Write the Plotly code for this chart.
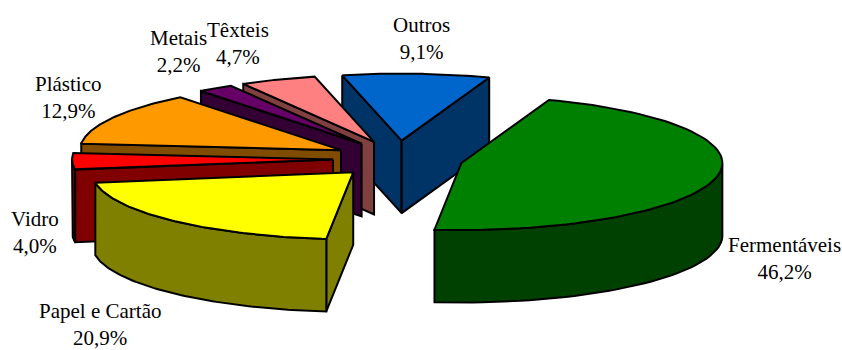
import numpy as np
import plotly.graph_objects as go

categories = ["Fermentáveis", "Papel e Cartão", "Vidro", "Plástico", "Metais", "Têxteis", "Outros"]
values = [46.2, 20.9, 4.0, 12.9, 2.2, 4.7, 9.1]
value_labels = ["46,2%", "20,9%", "4,0%", "12,9%", "2,2%", "4,7%", "9,1%"]
top_colors = ["#008000", "#FFFF00", "#FF0000", "#FF9900", "#660066", "#FF8080", "#0066CC"]
side_colors = ["#004000", "#808000", "#800000", "#804C00", "#330033", "#804040", "#003366"]
label_x = [784, 100, 35, 68, 178, 238, 421]
label_y = [258, 324, 232, 97, 51, 43, 38]
draw_order = [6, 5, 4, 3, 2, 0, 1]

START = 19.6
CX, CY, RX, RY = 398.0, 159.0, 261.0, 67.0
EX, EY = 65.0, 18.4
DEPTH = 72.5

fig = go.Figure()


def face(xs, ys, color):
    fig.add_trace(go.Scatter(
        x=list(xs), y=list(ys), mode="lines", fill="toself", fillcolor=color,
        line=dict(color="black", width=2), hoverinfo="skip", showlegend=False,
    ))


edges = START + np.concatenate([[0], np.cumsum(values)]) * 3.6
for i in draw_order:
    a0, a1 = edges[i], edges[i + 1]
    mid = np.radians((a0 + a1) / 2)
    ax = CX + EX * np.sin(mid)
    ay = CY - EY * np.cos(mid)
    t = np.radians(np.linspace(a0, a1, 80))
    rx = ax + RX * np.sin(t)
    ry = ay - RY * np.cos(t)
    # radial walls, only where they face the viewer
    if np.sin(t[0]) < 0:
        face([ax, rx[0], rx[0], ax, ax], [ay, ry[0], ry[0] + DEPTH, ay + DEPTH, ay], side_colors[i])
    if np.sin(t[-1]) > 0:
        face([ax, rx[-1], rx[-1], ax, ax], [ay, ry[-1], ry[-1] + DEPTH, ay + DEPTH, ay], side_colors[i])
    # outer wall (front half only)
    front = np.cos(t) <= 0
    if front.sum() > 1:
        fx, fy = rx[front], ry[front]
        face(np.r_[fx, fx[::-1], fx[0]], np.r_[fy, fy[::-1] + DEPTH, fy[0]], side_colors[i])
    # top
    face(np.r_[ax, rx, ax], np.r_[ay, ry, ay], top_colors[i])

for name, val, x, y in zip(categories, value_labels, label_x, label_y):
    fig.add_annotation(x=x, y=y, xref="x", yref="y", text=f"{name}<br>{val}", showarrow=False,
                       align="center", font=dict(family="Liberation Serif", size=21, color="black"))

fig.update_layout(
    width=842, height=350, margin=dict(l=0, r=0, t=0, b=0),
    paper_bgcolor="white", plot_bgcolor="white", showlegend=False,
    xaxis=dict(range=[0, 842], visible=False, fixedrange=True),
    yaxis=dict(range=[350, 0], visible=False, fixedrange=True),
)
fig.write_html("out.html", config={"displayModeBar": False},
               post_script="document.body.style.margin='0';document.body.style.overflow='hidden';")
